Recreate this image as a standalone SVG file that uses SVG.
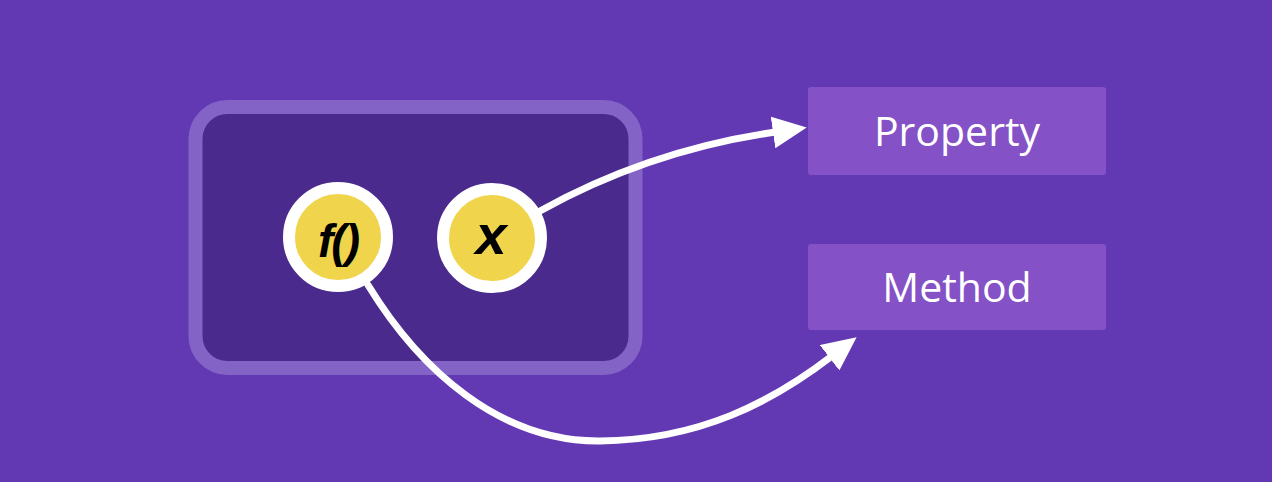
<svg xmlns="http://www.w3.org/2000/svg" width="1272" height="482" viewBox="0 0 1272 482">
  <style>
    .panel { fill: #4a2a8c; stroke: #8463c6; stroke-width: 14; }
    .member { fill: #f0d44c; stroke: #ffffff; stroke-width: 12; }
    .glyph { font-family: "Liberation Sans", Arial, sans-serif; font-weight: bold; font-style: italic; fill: #000000; text-anchor: middle; }
    .target { fill: #8551c6; }
    .label { font-family: "Open Sans", "Noto Sans", sans-serif; font-size: 41px; font-weight: 500; fill: #ffffff; text-anchor: middle; }
    .link { fill: none; stroke: #ffffff; stroke-width: 7; stroke-linecap: round; }
  </style>
  <defs>
    <marker id="head" viewBox="0 0 34 32" markerWidth="34" markerHeight="32" refX="3" refY="16" orient="auto" markerUnits="userSpaceOnUse">
      <path d="M0,0 L34,16 L0,32 z" fill="#ffffff"/>
    </marker>
  </defs>

  <rect width="1272" height="482" fill="#6339b3"/>

  <!-- object container -->
  <g id="object">
    <rect class="panel" x="195.5" y="107" width="440" height="261" rx="32" ry="32"/>
  </g>

  <!-- connectors -->
  <g id="connectors">
    <path class="link" d="M540,211 Q650,150 776,132" marker-end="url(#head)"/>
    <path class="link" d="M368,285 C420,370 500,442 600,441 C700,440 772,402 832,356" marker-end="url(#head)"/>
  </g>

  <g id="method-member">
    <circle class="member" cx="338" cy="237" r="49"/>
    <text class="glyph" x="338" y="257" font-size="46" letter-spacing="-2">f()</text>
  </g>

  <g id="property-member">
    <circle class="member" cx="492" cy="238" r="49"/>
    <text class="glyph" x="491" y="254" font-size="56">x</text>
  </g>

  <g id="property">
    <rect class="target" x="808" y="87" width="298" height="88" rx="3"/>
    <text class="label" x="957" y="146">Property</text>
  </g>

  <g id="method">
    <rect class="target" x="808" y="244" width="298" height="86" rx="3"/>
    <text class="label" x="957" y="302">Method</text>
  </g>
</svg>
